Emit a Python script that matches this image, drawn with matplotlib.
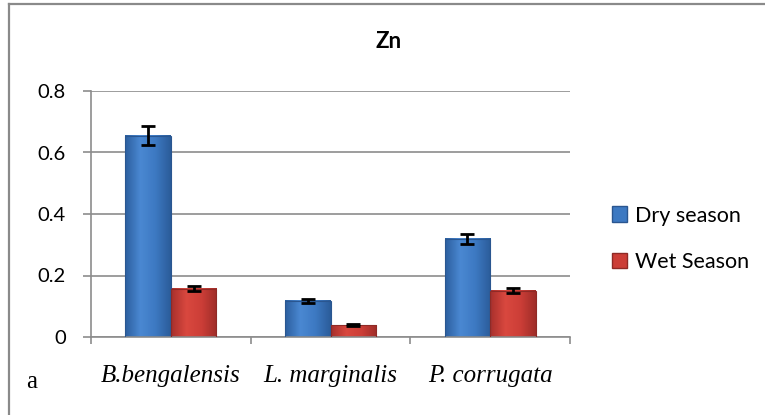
import numpy as np
import matplotlib
matplotlib.use("Agg")
import matplotlib.pyplot as plt
from matplotlib.patches import Patch
from matplotlib.lines import Line2D
from matplotlib.colors import LinearSegmentedColormap

species = ["B.bengalensis", "L. marginalis", "P. corrugata"]
dry = [0.655, 0.118, 0.319]
dry_err = [0.032, 0.006, 0.016]
wet = [0.157, 0.039, 0.151]
wet_err = [0.008, 0.003, 0.007]
yticks = [0, 0.2, 0.4, 0.6, 0.8]
ytick_labels = ["0", "0.2", "0.4", "0.6", "0.8"]

W, H = 765, 415
fig = plt.figure(figsize=(W / 100, H / 100), dpi=100)
ax = fig.add_axes([91 / W, 1 - 337 / H, (570 - 91) / W, (337 - 91) / H])

x = np.arange(len(species))
bw = 0.285

blue_map = LinearSegmentedColormap.from_list("b", ["#2c5f9f", "#4a88d2", "#3d79c2", "#2b5c9a"])
red_map = LinearSegmentedColormap.from_list("r", ["#a8302c", "#d9483f", "#cc3e37", "#9f2d29"])
grad = np.linspace(0, 1, 64).reshape(1, -1)

def shaded_bars(xs, vals, cmap, edge):
    for xc, v in zip(xs, vals):
        x0, x1 = xc - bw / 2, xc + bw / 2
        ax.imshow(grad, cmap=cmap, extent=[x0, x1, 0, v], aspect="auto", zorder=2)
        ax.bar(xc, v, bw, facecolor="none", edgecolor=edge, linewidth=0.8, zorder=3)

shaded_bars(x - bw / 2, dry, blue_map, "#2a5690")
shaded_bars(x + bw / 2, wet, red_map, "#8f2a26")

ax.errorbar(x - bw / 2, dry, yerr=dry_err, fmt="none", ecolor="black",
            elinewidth=2, capsize=5, capthick=2, zorder=4)
ax.errorbar(x + bw / 2, wet, yerr=wet_err, fmt="none", ecolor="black",
            elinewidth=2, capsize=5, capthick=2, zorder=4)

ax.set_xlim(-0.5, 2.5)
ax.set_ylim(0, 0.8)
ax.set_yticks(yticks)
ax.set_yticklabels(ytick_labels, fontsize=14.5, family="Lato")
ax.yaxis.grid(True, color="#8c8c8c", linewidth=1.2, zorder=0)
ax.set_axisbelow(True)
ax.tick_params(axis="y", length=6, color="#8c8c8c", width=1.2, pad=12)

ax.set_xticks(x)
ax.set_xticklabels(species, fontsize=18, family="Liberation Serif", style="italic")
ax.tick_params(axis="x", length=0, pad=20)
ax.set_xticks([-0.5, 0.5, 1.5, 2.5], minor=True)
ax.tick_params(axis="x", which="minor", length=5, color="#8c8c8c", width=1.2)

for s in ["top", "right"]:
    ax.spines[s].set_visible(False)
for s in ["left", "bottom"]:
    ax.spines[s].set_color("#8c8c8c")
    ax.spines[s].set_linewidth(1.2)

fig.text(389 / W, 1 - 41 / H, "Zn", fontsize=16, fontweight="bold",
         family="Lato", ha="center", va="center")
fig.text(32 / W, 1 - 382 / H, "a", fontsize=18, family="Liberation Serif",
         ha="center", va="center")

handles = [Patch(facecolor="#3d79c2", edgecolor="#2a5690"),
           Patch(facecolor="#cc3e37", edgecolor="#8f2a26")]
fig.legend(handles, ["Dry season", "Wet Season"], loc="center left",
           bbox_to_anchor=(593 / W, 1 - 239 / H), frameon=False,
           prop={"family": "Lato", "size": 15.5}, handlelength=0.7,
           handleheight=0.7, handletextpad=0.35, labelspacing=1.25)

# outer frame, open on the right and bottom
fig.add_artist(Line2D([8.5 / W, 8.5 / W], [0, 1 - 4 / H], color="#8a8a8a", lw=1.6))
fig.add_artist(Line2D([8.5 / W, 1], [1 - 4 / H, 1 - 4 / H], color="#8a8a8a", lw=1.6))

fig.savefig("out.png", dpi=100)
